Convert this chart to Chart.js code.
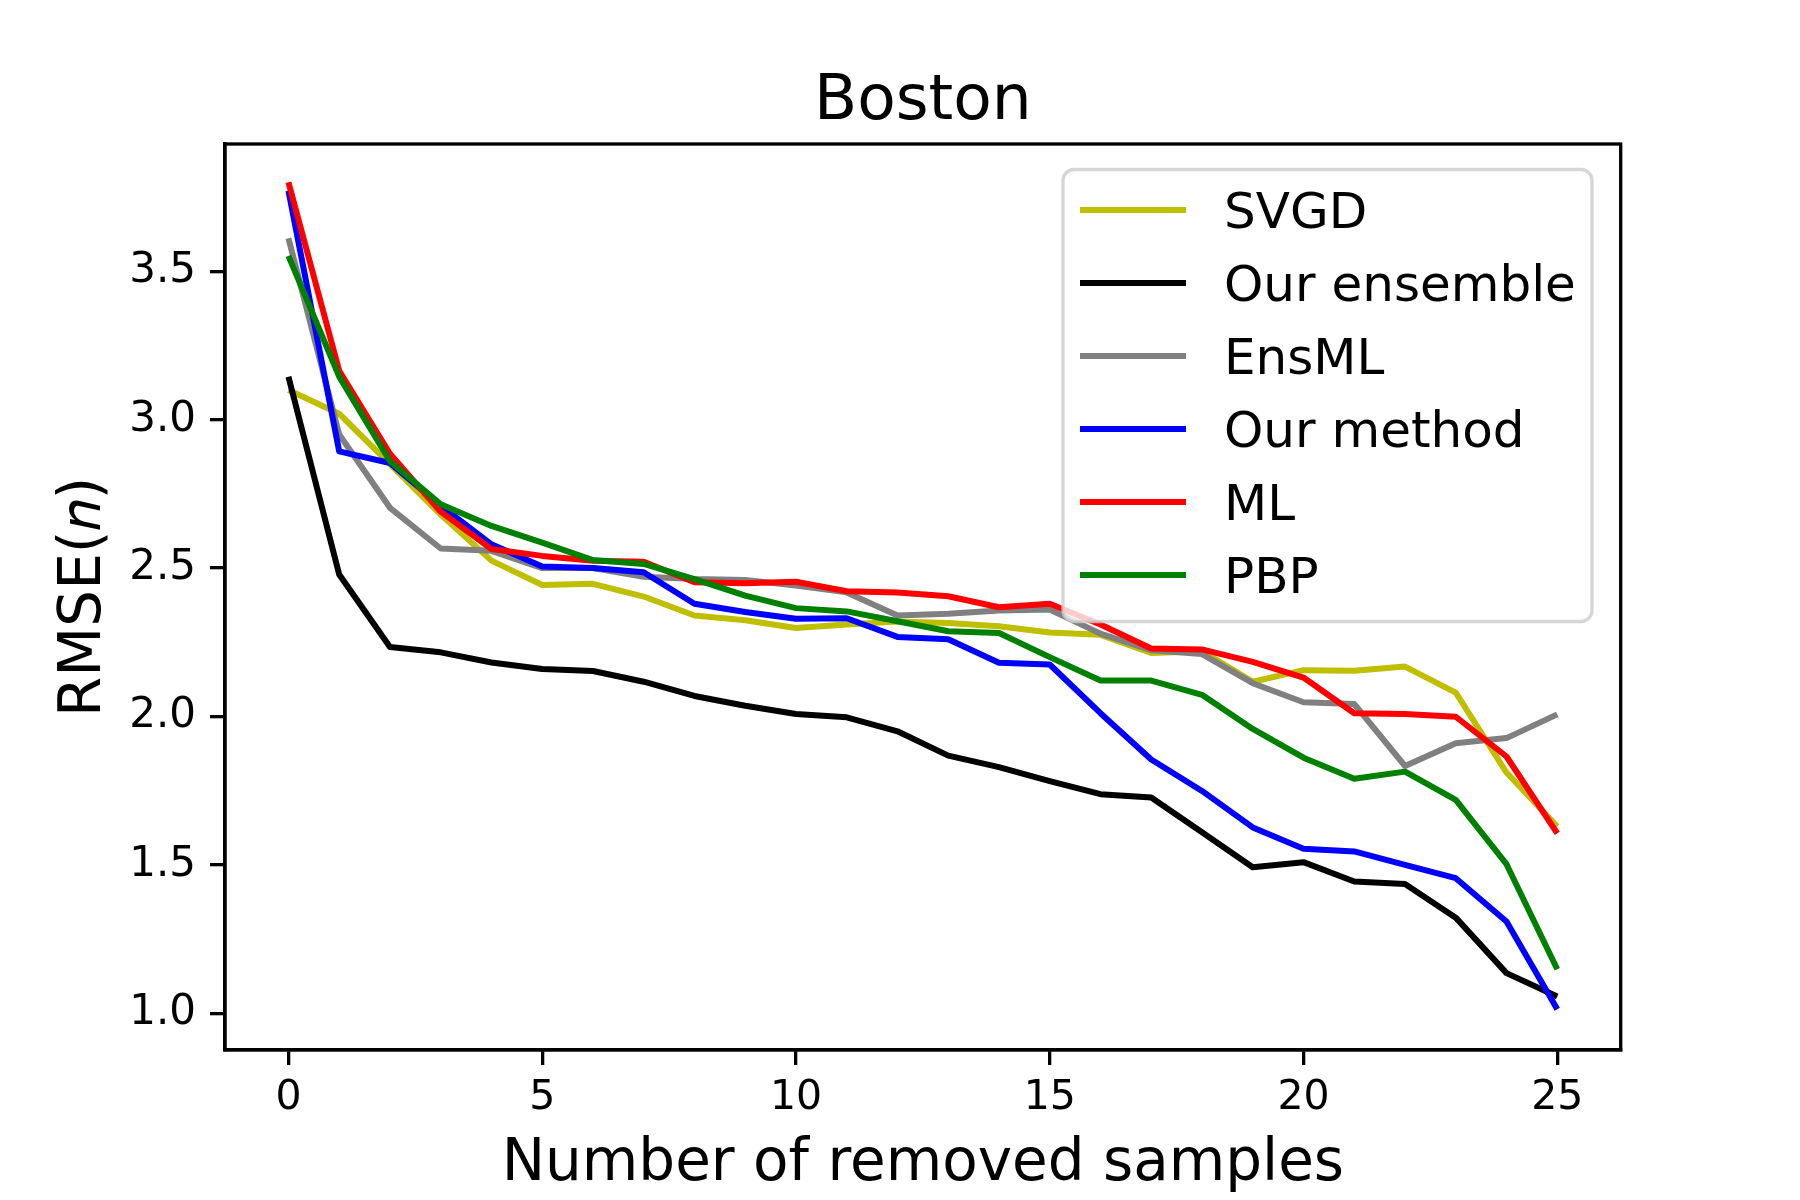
<!DOCTYPE html>
<html>
<head>
<meta charset="utf-8">
<script src="https://cdn.jsdelivr.net/npm/chart.js@4/dist/chart.umd.min.js"></script>
<style>
  html, body { margin: 0; padding: 0; background: #ffffff; }
  #wrap { width: 1800px; height: 1200px; position: relative; }
</style>
</head>
<body>
<div id="wrap"><canvas id="c" width="1800" height="1200"></canvas></div>
<script>
// ---- data ----
const removedSamples = [0,1,2,3,4,5,6,7,8,9,10,11,12,13,14,15,16,17,18,19,20,21,22,23,24,25];
const svgd        = [3.10,3.02,2.85,2.68,2.525,2.443,2.447,2.404,2.34,2.324,2.298,2.31,2.32,2.315,2.304,2.283,2.275,2.214,2.22,2.117,2.156,2.154,2.168,2.08,1.811,1.629];
const ourEnsemble = [3.145,2.478,2.234,2.216,2.182,2.16,2.153,2.117,2.069,2.036,2.008,1.997,1.95,1.868,1.829,1.782,1.738,1.727,1.61,1.492,1.509,1.444,1.435,1.322,1.135,1.056];
const ensML       = [3.611,2.95,2.703,2.566,2.558,2.5,2.5,2.471,2.463,2.46,2.441,2.418,2.34,2.346,2.357,2.36,2.279,2.223,2.21,2.112,2.048,2.042,1.833,1.91,1.927,2.007];
const ourMethod   = [3.772,2.893,2.854,2.71,2.58,2.505,2.5,2.486,2.38,2.352,2.329,2.331,2.268,2.26,2.181,2.175,2.011,1.855,1.749,1.626,1.554,1.545,1.5,1.455,1.309,1.013];
const ml          = [3.80,3.165,2.885,2.69,2.564,2.541,2.525,2.521,2.452,2.449,2.454,2.422,2.418,2.405,2.368,2.38,2.31,2.229,2.226,2.184,2.131,2.011,2.008,1.999,1.865,1.606];
const pbp         = [3.552,3.145,2.86,2.715,2.642,2.586,2.527,2.514,2.463,2.407,2.365,2.354,2.321,2.287,2.281,2.2,2.121,2.121,2.073,1.958,1.861,1.79,1.814,1.719,1.502,1.148];

const seriesLabels = ['SVGD','Our ensemble','EnsML','Our method','ML','PBP'];
const seriesValues = [svgd, ourEnsemble, ensML, ourMethod, ml, pbp];
const seriesColors = ['#bfbf00','#000000','#808080','#0000ff','#ff0000','#008000'];

const xTickValues = [0,5,10,15,20,25];
const yTickValues = [1.0,1.5,2.0,2.5,3.0,3.5];

const titleText = 'Boston';
const xTitle = 'Number of removed samples';
const yTitle = 'RMSE(\u{1D45B})';

// ---- chart ----
Chart.defaults.font.family = "'DejaVu Sans', sans-serif";
Chart.defaults.color = '#000000';

const frameAndLegend = {
  id: 'frameAndLegend',
  afterDatasetsDraw(chart) {
    const ctx = chart.ctx;
    const a = chart.chartArea;
    ctx.save();
    ctx.strokeStyle = '#000000';
    ctx.lineWidth = 3.3;
    ctx.strokeRect(a.left, a.top, a.right - a.left, a.bottom - a.top);
    // legend box
    const lx = 1063, ly = 169.5, lw = 529, lh = 452, r = 11;
    ctx.beginPath();
    ctx.moveTo(lx + r, ly);
    ctx.lineTo(lx + lw - r, ly);
    ctx.arcTo(lx + lw, ly, lx + lw, ly + r, r);
    ctx.lineTo(lx + lw, ly + lh - r);
    ctx.arcTo(lx + lw, ly + lh, lx + lw - r, ly + lh, r);
    ctx.lineTo(lx + r, ly + lh);
    ctx.arcTo(lx, ly + lh, lx, ly + lh - r, r);
    ctx.lineTo(lx, ly + r);
    ctx.arcTo(lx, ly, lx + r, ly, r);
    ctx.closePath();
    ctx.fillStyle = 'rgba(255,255,255,0.8)';
    ctx.fill();
    ctx.strokeStyle = 'rgba(204,204,204,0.8)';
    ctx.lineWidth = 3.3;
    ctx.stroke();
    ctx.font = "50px 'DejaVu Sans'";
    ctx.textBaseline = 'alphabetic';
    ctx.textAlign = 'left';
    chart.data.datasets.forEach((ds, i) => {
      const cy = 210 + i * 73;
      ctx.beginPath();
      ctx.moveTo(1080, cy);
      ctx.lineTo(1186, cy);
      ctx.strokeStyle = ds.borderColor;
      ctx.lineWidth = 6;
      ctx.lineCap = 'butt';
      ctx.stroke();
      ctx.fillStyle = '#000000';
      ctx.fillText(ds.label, 1224, cy + 18);
    });
    ctx.restore();
  }
};

new Chart(document.getElementById('c'), {
  type: 'line',
  data: {
    labels: removedSamples,
    datasets: seriesLabels.map((lab, i) => ({
      label: lab,
      data: seriesValues[i],
      borderColor: seriesColors[i],
      backgroundColor: seriesColors[i],
      borderWidth: 6,
      pointRadius: 0,
      tension: 0,
      fill: false,
      borderJoinStyle: 'round',
      borderCapStyle: 'butt',
      order: seriesLabels.length - i
    }))
  },
  options: {
    responsive: false,
    devicePixelRatio: 1,
    animation: false,
    layout: { padding: { left: 0, right: 179.3, top: 0, bottom: 0 } },
    plugins: {
      legend: { display: false },
      tooltip: { enabled: false },
      title: {
        display: true,
        text: titleText,
        fullSize: false,
        color: '#000000',
        font: { size: 63, weight: 'normal' },
        padding: { top: 65, bottom: 3.4 }
      }
    },
    scales: {
      x: {
        type: 'linear',
        min: -1.25,
        max: 26.25,
        afterFit(s) { s.height = 150; },
        afterBuildTicks(s) { s.ticks = xTickValues.map(v => ({ value: v })); },
        grid: { drawOnChartArea: false, drawTicks: true, tickLength: 15, color: '#000000', lineWidth: 3.3 },
        border: { display: true, color: '#000000', width: 3.3 },
        ticks: { font: { size: 41 }, color: '#000000', padding: 9, maxRotation: 0, callback: v => String(v) },
        title: { display: true, text: xTitle, color: '#000000', font: { size: 58 }, padding: { top: 0, bottom: 0 } }
      },
      y: {
        type: 'linear',
        min: 0.876,
        max: 3.929,
        afterFit(s) { s.width = 225; },
        afterBuildTicks(s) { s.ticks = yTickValues.map(v => ({ value: v })); },
        grid: { drawOnChartArea: false, drawTicks: true, tickLength: 15, color: '#000000', lineWidth: 3.3 },
        border: { display: true, color: '#000000', width: 3.3 },
        ticks: { font: { size: 42 }, color: '#000000', padding: 14, callback: v => Number(v).toFixed(1) },
        title: { display: true, text: yTitle, color: '#000000', font: { size: 58 }, padding: { top: 50, bottom: 0 } }
      }
    }
  },
  plugins: [frameAndLegend]
});
</script>
</body>
</html>
